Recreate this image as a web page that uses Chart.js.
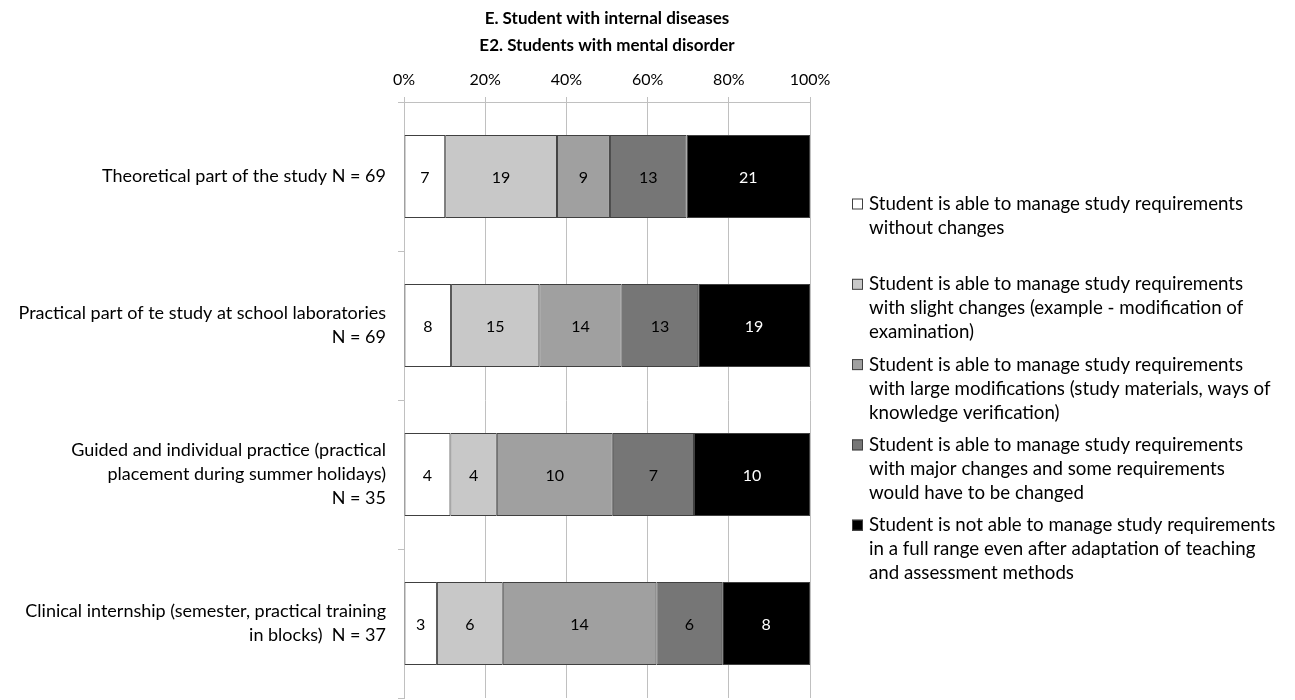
<!DOCTYPE html>
<html>
<head>
<meta charset="utf-8">
<script src="https://cdn.jsdelivr.net/npm/chart.js@4.4.1/dist/chart.umd.min.js"></script>
<style>
  html, body { margin: 0; padding: 0; background: #ffffff; }
  #wrap { width: 1295px; height: 700px; position: relative; }
</style>
</head>
<body>
<div id="wrap"><canvas id="chart" width="1295" height="700"></canvas></div>
<script>
// Chart title (two lines)
const titleLines = ['E. Student with internal diseases', 'E2. Students with mental disorder'];

// Study parts (y categories), split into display lines
const categories = [
  ['Theoretical part of the study N = 69'],
  ['Practical part of te study at school laboratories', 'N = 69'],
  ['Guided and individual practice (practical', 'placement during summer holidays)', 'N = 35'],
  ['Clinical internship (semester, practical training', 'in blocks)  N = 37']
];

// Number of students per assessment level, one value per study part
const withoutChanges     = [7, 8, 4, 3];
const slightChanges      = [19, 15, 4, 6];
const largeModifications = [9, 14, 10, 14];
const majorChanges       = [13, 13, 7, 6];
const notAble            = [21, 19, 10, 8];

// Legend texts, split into display lines
const seriesNames = [
  ['Student is able to manage study requirements', 'without changes'],
  ['Student is able to manage study requirements', 'with slight changes (example - modification of', 'examination)'],
  ['Student is able to manage study requirements', 'with large modifications (study materials, ways of', 'knowledge verification)'],
  ['Student is able to manage study requirements', 'with major changes and some requirements', 'would have to be changed'],
  ['Student is not able to manage study requirements', 'in a full range even after adaptation of teaching', 'and assessment methods']
];

// Percentage axis ticks
const xTicks = [0, 20, 40, 60, 80, 100];

const seriesColors = ['#ffffff', '#c8c8c8', '#a0a0a0', '#767676', '#000000'];
const seriesCounts = [withoutChanges, slightChanges, largeModifications, majorChanges, notAble];

const FONT = 'Lato, "Open Sans", sans-serif';

// Each bar is stacked to 100 %: share of every level within its study part
const totals = categories.map((_, i) => seriesCounts.reduce((s, arr) => s + arr[i], 0));
const datasets = seriesCounts.map((counts, k) => ({
  label: seriesNames[k].join(' '),
  counts: counts,
  data: counts.map((v, i) => v / totals[i] * 100),
  backgroundColor: seriesColors[k],
  borderColor: '#404040',
  borderWidth: 1,
  borderSkipped: false,
  categoryPercentage: 1,
  barPercentage: 0.557
}));

// Two-line bold title centred above the plot area
const titlePlugin = {
  id: 'titleLines',
  afterDraw(chart) {
    const { ctx, chartArea } = chart;
    const cx = (chartArea.left + chartArea.right) / 2;
    ctx.save();
    ctx.fillStyle = '#000000';
    ctx.font = 'bold 17px ' + FONT;
    ctx.textAlign = 'center';
    ctx.textBaseline = 'middle';
    titleLines.forEach((t, i) => ctx.fillText(t, cx, 19 + i * 27));
    ctx.restore();
  }
};

// Student counts written inside each segment
const countLabels = {
  id: 'countLabels',
  afterDatasetsDraw(chart) {
    const { ctx } = chart;
    ctx.save();
    ctx.font = '16px ' + FONT;
    ctx.textAlign = 'center';
    ctx.textBaseline = 'middle';
    chart.data.datasets.forEach((ds, k) => {
      chart.getDatasetMeta(k).data.forEach((bar, i) => {
        const { x, base, y } = bar.getProps(['x', 'base', 'y'], true);
        ctx.fillStyle = ds.backgroundColor === '#000000' ? '#ffffff' : '#000000';
        ctx.fillText(String(ds.counts[i]), (x + base) / 2, y + 1);
      });
    });
    ctx.restore();
  }
};

// Legend on the right with wrapped texts
const sideLegend = {
  id: 'sideLegend',
  afterDraw(chart) {
    const { ctx } = chart;
    const boxX = 852, textX = 869, firstY = 204, lineGap = 24, itemGap = 80.3, box = 11;
    ctx.save();
    ctx.font = '18.7px ' + FONT;
    ctx.textAlign = 'left';
    ctx.textBaseline = 'middle';
    chart.data.datasets.forEach((ds, k) => {
      const y0 = firstY + k * itemGap;
      ctx.fillStyle = ds.backgroundColor;
      ctx.fillRect(boxX, y0 - box / 2, box, box);
      ctx.strokeStyle = '#404040';
      ctx.lineWidth = 1;
      ctx.strokeRect(boxX + 0.5, y0 - box / 2 + 0.5, box - 1, box - 1);
      ctx.fillStyle = '#000000';
      seriesNames[k].forEach((line, j) => ctx.fillText(line, textX, y0 + j * lineGap));
    });
    ctx.restore();
  }
};

new Chart(document.getElementById('chart'), {
  type: 'bar',
  data: { labels: categories, datasets: datasets },
  options: {
    indexAxis: 'y',
    responsive: false,
    animation: false,
    devicePixelRatio: 1,
    layout: { padding: { left: 0, top: 0, right: 485, bottom: 2 } },
    plugins: {
      legend: { display: false },
      title: { display: false },
      tooltip: { enabled: false }
    },
    scales: {
      x: {
        position: 'top',
        stacked: true,
        min: 0,
        max: 100,
        afterBuildTicks(scale) { scale.ticks = xTicks.map(v => ({ value: v })); },
        afterFit(scale) {
          scale.height = 102;
          scale.paddingLeft = 0;
          scale.paddingRight = 0;
        },
        ticks: {
          callback: v => v + '%',
          color: '#000000',
          font: { family: FONT, size: 16 },
          padding: 8,
          maxRotation: 0
        },
        grid: { color: '#c0c0c0', lineWidth: 1, tickLength: 5, drawTicks: true },
        border: { color: '#c0c0c0', width: 1 }
      },
      y: {
        stacked: true,
        afterFit(scale) {
          scale.width = 404;
          scale.paddingTop = 0;
          scale.paddingBottom = 0;
        },
        ticks: {
          color: '#000000',
          font: { family: FONT, size: 18, lineHeight: 1.333 },
          padding: 12,
          align: 'center',
          crossAlign: 'near'
        },
        grid: { drawOnChartArea: false, drawTicks: true, tickLength: 6, color: '#c0c0c0', offset: true },
        border: { color: '#c0c0c0', width: 1 }
      }
    }
  },
  plugins: [titlePlugin, countLabels, sideLegend]
});
</script>
</body>
</html>
